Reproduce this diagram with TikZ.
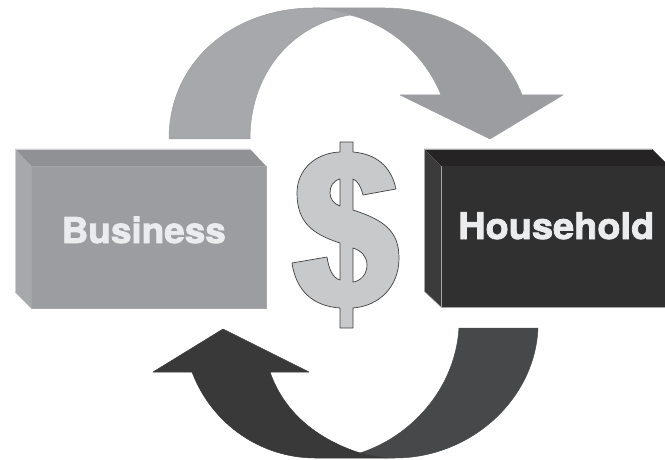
\documentclass[tikz,border=0pt]{standalone}
\usepackage{fontspec}
\setmainfont{TeX Gyre Heros}
\newfontfamily\labelfont[FakeBold=2.2,FakeStretch=1.04]{TeX Gyre Heros Bold}
\definecolor{toplight}{HTML}{A7A8AB}
\definecolor{topdark}{HTML}{9C9DA0}
\definecolor{bustop}{HTML}{909194}
\definecolor{botlight}{HTML}{474849}
\definecolor{botdark}{HTML}{393939}
\definecolor{dollarfill}{HTML}{C8C9CB}
\definecolor{holdfront}{HTML}{303031}
\definecolor{holdtop}{HTML}{252324}
\definecolor{holdleft}{HTML}{3B3B3C}
\definecolor{labeltext}{HTML}{EBECED}
\tikzset{
  facet/.style={line width=0.5pt,line join=round},
  boxlabel/.style={text=labeltext,inner sep=0pt,anchor=base west,font=\labelfont},
}
\begin{document}
\begin{tikzpicture}[x=1pt,y=-1pt]
\useasboundingbox (0,0) rectangle (665,460);
\clip (0,0) rectangle (665,460);
% top arrow
\draw[facet,draw=topdark,fill=topdark] (313,8) -- (385,8) .. controls (450,8) and (503,45) .. (522,95)
  -- (563,95) -- (490,139) -- (400,95) -- (441,95) .. controls (425,55) and (390,25) .. (350,15)
  .. controls (340,11) and (327,8) .. (313,8) -- cycle;
\draw[facet,draw=topdark,fill=toplight] (169,139) .. controls (169,60) and (235,8) .. (313,8)
  .. controls (327,8) and (340,11) .. (350,15) .. controls (290,25) and (250,75) .. (250,139) -- cycle;
% bottom arrow
\draw[facet,draw=botlight,fill=botlight] (459,328) -- (538,328) .. controls (535,400) and (470,458) .. (395,458)
  -- (387,458) .. controls (378,457) and (368,455) .. (360,453) .. controls (410,437) and (455,390) .. (459,328) -- cycle;
\draw[facet,draw=botdark,fill=botdark] (360,453) .. controls (320,440) and (285,415) .. (270,372)
  -- (309,372) -- (223,329) -- (153,372) -- (192,372) .. controls (212,425) and (262,458) .. (315,458)
  -- (387,458) .. controls (378,457) and (368,455) .. (360,453) -- cycle;
% business box
\fill[bustop] (15,149) -- (250,149) -- (266,166) -- (31,166) -- cycle;
\fill[toplight] (15,149) -- (31,166) -- (31,308) -- (15,292) -- cycle;
\draw[facet,draw=gray!70,fill=topdark] (31,166) rectangle (266,308);
\draw[line width=0.5pt,draw=gray!35] (15,292) -- (15,149) -- (250,149);
% household box
\fill[holdtop] (424,149) -- (652,149) -- (669,166) -- (441,166) -- cycle;
\fill[holdleft] (424,149) -- (441,166) -- (441,307) -- (424,291) -- cycle;
\fill[holdfront] (441,166) rectangle (670,307);
\draw[line width=0.5pt,draw=gray!70] (441,166) -- (441,307) -- (670,307);
\draw[line width=0.5pt,draw=gray!70] (424,291) -- (424,149) -- (652,149);
\draw[line width=0.5pt,draw=gray!70] (424,291) -- (441,307);
% dollar
\draw[line width=0.7pt,draw=black!75,fill=dollarfill,even odd rule,line join=round]
  (340,142) -- (353,142) -- (353,152)
  .. controls (376,154) and (391,166) .. (396,189) -- (363,195)
  .. controls (361,187) and (358,181) .. (353,179) -- (353,210)
  .. controls (384,220) and (399,231) .. (399,258)
  .. controls (399,287) and (379,306) .. (353,308) -- (353,328) -- (340,328) -- (340,308)
  .. controls (312,306) and (296,290) .. (292,263) -- (327,257)
  .. controls (329,270) and (333,278) .. (340,280) -- (340,243)
  .. controls (312,234) and (297,222) .. (297,193)
  .. controls (297,170) and (315,153) .. (340,152) -- cycle
  (340,179) .. controls (333,181) and (330,186) .. (330,193) .. controls (330,199) and (334,204) .. (340,206) -- cycle
  (353,248) .. controls (362,251) and (367,257) .. (367,265) .. controls (367,274) and (361,281) .. (353,282) -- cycle;
% labels
\node[boxlabel,font=\labelfont\fontsize{35.5}{36}\selectfont] (business) at (61.5,243) {Business};
\node[boxlabel,font=\labelfont\fontsize{36.5}{37}\selectfont] (household) at (458,239) {Household};
\end{tikzpicture}
\end{document}
